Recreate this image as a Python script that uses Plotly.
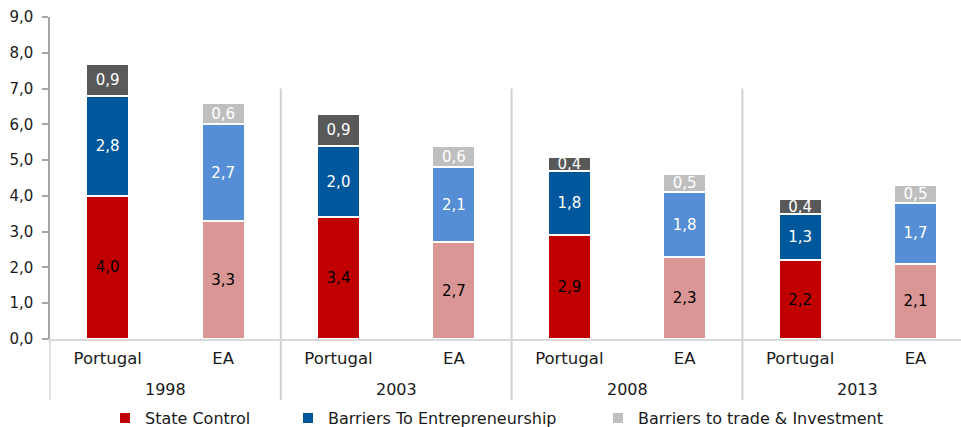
import plotly.graph_objects as go

# Product market regulation indicators: Portugal vs euro area (EA)
years = ["1998", "2003", "2008", "2013"]
countries = ["Portugal", "EA"]

state_control_pt = [4.0, 3.4, 2.9, 2.2]
state_control_ea = [3.3, 2.7, 2.3, 2.1]
entrepreneurship_pt = [2.8, 2.0, 1.8, 1.3]
entrepreneurship_ea = [2.7, 2.1, 1.8, 1.7]
trade_pt = [0.9, 0.9, 0.4, 0.4]
trade_ea = [0.6, 0.6, 0.5, 0.5]

series_names = ["State Control", "Barriers To Entrepreneurship",
                "Barriers to trade & Investment"]

FONT = "DejaVu Sans"

# each year holds two slots: Portugal then EA
x_pt = [2 * i for i in range(len(years))]
x_ea = [2 * i + 1 for i in range(len(years))]

BAR_W = 0.373

fig = go.Figure()


def add_stack(xs, values, colors, text_colors, legends, show):
    for vals, name, color, tcol, leg, sh in zip(values, series_names, colors,
                                               text_colors, legends, show):
        fig.add_trace(go.Bar(
            x=xs, y=vals, name=name, width=BAR_W,
            marker=dict(color=color, line=dict(color="white", width=2)),
            text=[f"{v:.1f}".replace(".", ",") for v in vals],
            textposition="inside", insidetextanchor="middle",
            constraintext="none",
            textfont=dict(family=FONT, size=15, color=tcol),
            legend=leg, showlegend=sh, hoverinfo="skip",
        ))


add_stack(x_pt, [state_control_pt, entrepreneurship_pt, trade_pt],
          ["#C00000", "#00589C", "#595959"],
          ["#000000", "#FFFFFF", "#FFFFFF"],
          ["legend", "legend2", "legend3"], [True, True, False])
add_stack(x_ea, [state_control_ea, entrepreneurship_ea, trade_ea],
          ["#DA9694", "#558ED5", "#BFBFBF"],
          ["#000000", "#FFFFFF", "#FFFFFF"],
          ["legend", "legend2", "legend3"], [False, False, True])

# pixel geometry of the plotting area
W, H = 961, 427
ML, MR, MT, MB = 50, 0, 17, 88
plot_w = W - ML - MR
plot_h = H - MT - MB
slot_px = 115.4
x_end = -0.5 + plot_w / slot_px


def py(px):
    """paper y for a pixel row"""
    return (H - MB - px) / plot_h


def px_x(px):
    return (px - ML) / plot_w


# year labels under the country labels
annotations = []
for i, yr in enumerate(years):
    annotations.append(dict(
        x=(x_pt[i] + x_ea[i]) / 2, y=py(389), xref="x", yref="paper",
        text=yr, showarrow=False, yanchor="middle", xanchor="center",
        font=dict(family=FONT, size=16, color="#1a1a1a"),
    ))

# group separators
shapes = []
for i in range(1, len(years)):
    xb = (x_ea[i - 1] + x_pt[i]) / 2
    shapes.append(dict(type="line", xref="x", yref="paper",
                       x0=xb, x1=xb, y0=py(400), y1=7.0 / 9.0,
                       line=dict(color="#D0D0D0", width=2), layer="below"))
shapes.append(dict(type="line", xref="paper", yref="paper",
                   x0=0, x1=0, y0=py(400), y1=0,
                   line=dict(color="#D9D9D9", width=1.5), layer="below"))

legend_style = dict(orientation="h", yanchor="middle", xanchor="left",
                    yref="container", y=(H - 418) / H,
                    bgcolor="rgba(0,0,0,0)", borderwidth=0,
                    font=dict(family=FONT, size=16, color="#1a1a1a"))

fig.update_layout(
    width=W, height=H, autosize=False,
    margin=dict(l=ML, r=MR, t=MT, b=MB, pad=0, autoexpand=False),
    paper_bgcolor="white", plot_bgcolor="white",
    barmode="stack", separators=", ",
    font=dict(family=FONT, color="#1a1a1a"),
    xaxis=dict(
        range=[-0.5, x_end], tickmode="array",
        tickvals=x_pt + x_ea, ticktext=[countries[0]] * 4 + [countries[1]] * 4,
        ticks="", showgrid=False, zeroline=False,
        showline=True, linecolor="#D9D9D9", linewidth=1.5,
        tickfont=dict(family=FONT, size=16.5, color="#1a1a1a"),
        ticklabelstandoff=3,
    ),
    yaxis=dict(
        range=[0, 9], tick0=0, dtick=1, tickformat=".1f",
        showgrid=False, zeroline=False,
        showline=True, linecolor="#A6A6A6", linewidth=1.5,
        ticks="outside", ticklen=6, tickcolor="#A6A6A6", tickwidth=1.5,
        tickfont=dict(family=FONT, size=15, color="#1a1a1a"),
        ticklabelstandoff=6,
    ),
    legend=dict(x=px_x(105), **legend_style),
    legend2=dict(x=px_x(288), **legend_style),
    legend3=dict(x=px_x(598), **legend_style),
    annotations=annotations, shapes=shapes,
)

fig.write_html("out.html")
